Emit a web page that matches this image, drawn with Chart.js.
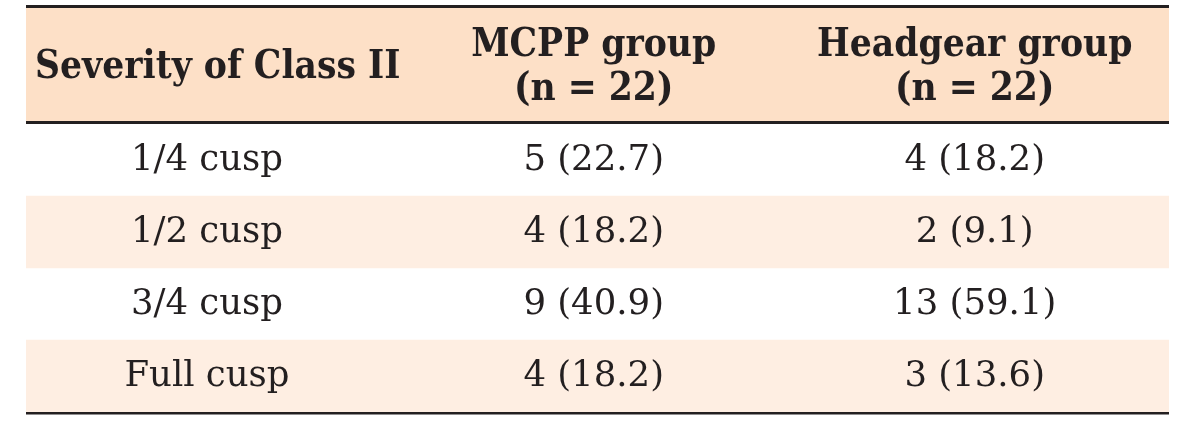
<!DOCTYPE html>
<html>
<head>
<meta charset="utf-8">
<script src="https://cdn.jsdelivr.net/npm/chart.js@4"></script>
<style>
  html, body { margin: 0; padding: 0; background: #fff; }
</style>
</head>
<body>
<canvas id="tableChart" width="1200" height="427"></canvas>
<script>
// Table content
const headers = ['Severity of Class II', ['MCPP group', '(n = 22)'], ['Headgear group', '(n = 22)']];
const categories = ['1/4 cusp', '1/2 cusp', '3/4 cusp', 'Full cusp'];
const mcppCounts = [5, 4, 9, 4];
const mcppPercents = ['22.7', '18.2', '40.9', '18.2'];
const headgearCounts = [4, 2, 13, 3];
const headgearPercents = ['18.2', '9.1', '59.1', '13.6'];
const shadedRows = [false, true, false, true];

// Look of the table
const ink = '#231f20';
const headerFill = '#fde0c7';
const rowFill = '#feeee2';
const headerHeight = 116;
const colCenters = [0.475, 1.49, 2.49]; // on the 0..3 x scale
const bodyFont = '35.5px "DejaVu Serif"';
const headFont = 'bold 38.5px "DejaVu Serif Condensed", "DejaVu Serif"';

const cellText = (counts, pcts) => counts.map((n, i) => `${n} (${pcts[i]})`);
const columns = [categories, cellText(mcppCounts, mcppPercents), cellText(headgearCounts, headgearPercents)];

const tablePlugin = {
    id: 'tablePlugin',
    beforeDatasetsDraw(chart) {
        const { ctx, chartArea } = chart;
        const w = chartArea.right - chartArea.left;
        ctx.save();
        ctx.fillStyle = headerFill;
        ctx.fillRect(chartArea.left, chartArea.top - headerHeight, w, headerHeight);
        ctx.restore();
    },
    afterDatasetsDraw(chart) {
        const { ctx, chartArea, scales } = chart;
        const x = scales.x, y = scales.y;
        const w = chartArea.right - chartArea.left;
        ctx.save();
        ctx.fillStyle = ink;
        // rules
        ctx.fillRect(chartArea.left, chartArea.top - headerHeight - 3, w, 3);
        ctx.fillRect(chartArea.left, chartArea.top - 3, w, 3);
        ctx.fillRect(chartArea.left, chartArea.bottom, w, 2.5);

        // header text
        const headMid = chartArea.top - 3 - headerHeight / 2;
        ctx.font = headFont;
        ctx.textBaseline = 'middle';
        headers.forEach((h, j) => {
            if (Array.isArray(h)) {
                ctx.textAlign = 'center';
                const px = x.getPixelForValue(colCenters[j]);
                ctx.fillText(h[0], px, headMid - 17);
                ctx.fillText(h[1], px, headMid + 27);
            } else {
                ctx.textAlign = 'left';
                ctx.fillText(h, chartArea.left + 9, headMid + 5);
            }
        });

        // body text
        ctx.font = bodyFont;
        ctx.textAlign = 'center';
        columns.forEach((col, j) => {
            const px = x.getPixelForValue(colCenters[j]);
            col.forEach((txt, i) => {
                ctx.fillText(txt, px, y.getPixelForValue(i) + 1);
            });
        });
        ctx.restore();
    }
};

const ctx = document.getElementById('tableChart').getContext('2d');
new Chart(ctx, {
    type: 'bar',
    data: {
        labels: categories,
        datasets: [{
            data: shadedRows.map(s => s ? [0, 3] : null),
            backgroundColor: rowFill,
            borderWidth: 0,
            barPercentage: 1,
            categoryPercentage: 1
        }]
    },
    options: {
        indexAxis: 'y',
        responsive: false,
        animation: false,
        layout: { padding: { left: 26, right: 31, top: 124, bottom: 15 } },
        scales: {
            x: { type: 'linear', min: 0, max: 3, display: false },
            y: { display: false }
        },
        plugins: {
            legend: { display: false },
            tooltip: { enabled: false }
        }
    },
    plugins: [tablePlugin]
});
</script>
</body>
</html>
